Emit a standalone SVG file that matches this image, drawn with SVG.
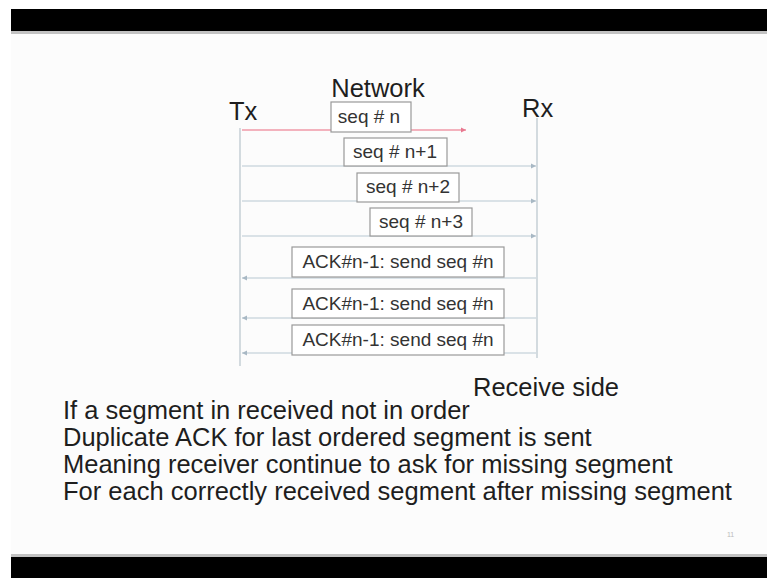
<svg xmlns="http://www.w3.org/2000/svg" width="767" height="578" viewBox="0 0 767 578">
<style>
text{font-family:"Liberation Sans",Arial,sans-serif;fill:#1e1e1e}
.big{font-size:25.5px}
.lbl{font-size:19px;fill:#333}
.box{fill:#fff;stroke:#999;stroke-width:1.2}
.life{stroke:#b8c4cc;stroke-width:1.2}
.msg{stroke:#b8c8d2;stroke-width:1.2;fill:none}
</style>
<defs>
<marker id="ah" markerWidth="6" markerHeight="6" refX="5" refY="3" orient="auto" markerUnits="userSpaceOnUse">
<path d="M0,0.5 L5,3 L0,5.5 z" fill="#a8b8c4"/>
</marker>
<marker id="ahr" markerWidth="6" markerHeight="6" refX="5" refY="3" orient="auto" markerUnits="userSpaceOnUse">
<path d="M0,0.5 L5,3 L0,5.5 z" fill="#e87890"/>
</marker>
</defs>
<rect x="0" y="0" width="767" height="578" fill="#fff"/>
<rect x="11" y="31" width="756" height="527" fill="#fcfcfc"/>
<rect x="11" y="9" width="756" height="22" fill="#000"/>
<rect x="11" y="31" width="756" height="3" fill="#888" opacity="0.5"/>
<rect x="11" y="554" width="756" height="3" fill="#888" opacity="0.5"/>
<rect x="11" y="557" width="756" height="21" fill="#000"/>

<g id="lifelines">
<line class="life" x1="240" y1="128" x2="240" y2="366"/>
<line class="life" x1="537" y1="118" x2="537" y2="358"/>
</g>

<g id="connectors">
<line x1="242" y1="130" x2="466" y2="130" stroke="#f09aa8" stroke-width="1.4" marker-end="url(#ahr)"/>
<line class="msg" x1="242" y1="166" x2="536" y2="166" marker-end="url(#ah)"/>
<line class="msg" x1="242" y1="201" x2="536" y2="201" marker-end="url(#ah)"/>
<line class="msg" x1="242" y1="236" x2="536" y2="236" marker-end="url(#ah)"/>
<line class="msg" x1="536" y1="278" x2="242" y2="278" marker-end="url(#ah)"/>
<line class="msg" x1="536" y1="318" x2="242" y2="318" marker-end="url(#ah)"/>
<line class="msg" x1="536" y1="353" x2="242" y2="353" marker-end="url(#ah)"/>
</g>

<g id="tx"><text class="big" x="229" y="120">Tx</text></g>
<g id="rx"><text class="big" x="522" y="117">Rx</text></g>
<g id="network"><text class="big" x="378" y="97" text-anchor="middle">Network</text></g>

<g id="seq-n"><rect class="box" x="331" y="102" width="80" height="30"/><text class="lbl" x="369" y="123" text-anchor="middle">seq # n</text></g>
<g id="seq-n1"><rect class="box" x="344" y="138" width="103" height="28"/><text class="lbl" x="395" y="158" text-anchor="middle">seq # n+1</text></g>
<g id="seq-n2"><rect class="box" x="357" y="173" width="102" height="29"/><text class="lbl" x="408" y="193" text-anchor="middle">seq # n+2</text></g>
<g id="seq-n3"><rect class="box" x="370" y="208" width="102" height="28"/><text class="lbl" x="421" y="228" text-anchor="middle">seq # n+3</text></g>

<g id="ack1"><rect class="box" x="292" y="247" width="212" height="30"/><text class="lbl" x="398" y="268" text-anchor="middle">ACK#n-1: send seq #n</text></g>
<g id="ack2"><rect class="box" x="292" y="289" width="212" height="29"/><text class="lbl" x="398" y="310" text-anchor="middle">ACK#n-1: send seq #n</text></g>
<g id="ack3"><rect class="box" x="292" y="325" width="212" height="30"/><text class="lbl" x="398" y="346" text-anchor="middle">ACK#n-1: send seq #n</text></g>

<g id="receive-side"><text class="big" x="473" y="396">Receive side</text></g>
<g id="notes">
<text class="big" x="63" y="419">If a segment in received not in order</text>
<text class="big" x="63" y="446">Duplicate ACK for last ordered segment is sent</text>
<text class="big" x="63" y="473">Meaning receiver continue to ask for missing segment</text>
<text class="big" x="63" y="500">For each correctly received segment after missing segment</text>
</g>
<text x="727" y="537" font-size="7" style="fill:#bbb">11</text>
</svg>
